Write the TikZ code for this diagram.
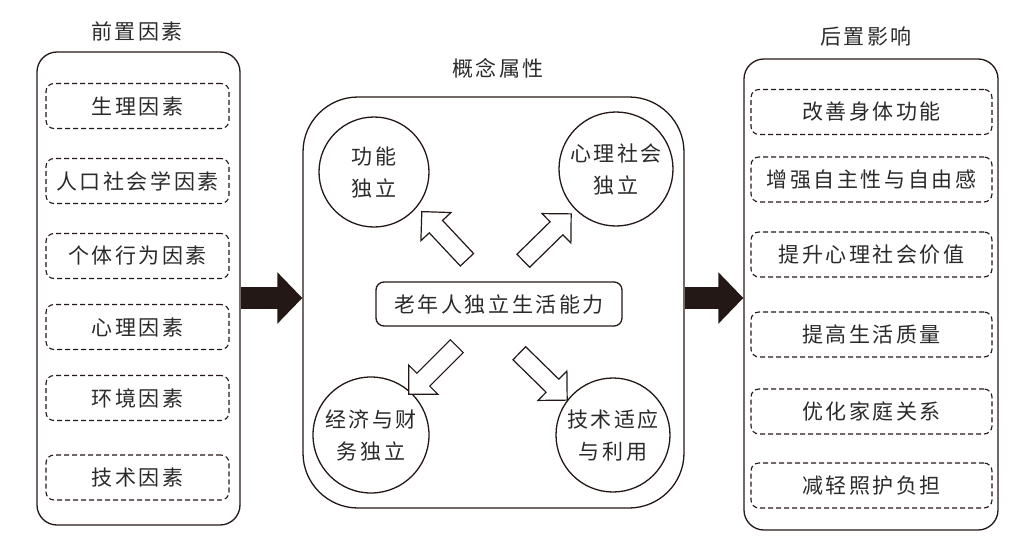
\documentclass[tikz,border=0pt]{standalone}
\usepackage{fontspec}
\setmainfont{Noto Sans CJK SC}[LetterSpace=12]
\usetikzlibrary{shapes.arrows,arrows.meta}
\definecolor{ink}{HTML}{231815}
\definecolor{txt}{HTML}{2A2A2A}
\begin{document}
\begin{tikzpicture}[x=1pt,y=-1pt,
  font=\fontsize{21}{32}\selectfont, text=txt,
  panel/.style={draw=ink, line width=1.3pt, rounded corners=20pt, inner sep=0pt},
  factor/.style={draw=ink, dash pattern=on 5pt off 3pt, line width=1.1pt, rounded corners=8pt, minimum height=45pt, inner sep=0pt},
  attr/.style={circle, draw=ink, line width=1.3pt, align=center, inner sep=0pt},
  corebox/.style={draw=ink, line width=1.3pt, rounded corners=8pt, minimum width=246pt, minimum height=44pt, inner sep=0pt},
  hollow/.style={single arrow, draw=ink, line width=1.2pt, inner sep=8.5pt, single arrow head extend=11.5pt, single arrow tip angle=90, sloped, allow upside down, fill=white},
  bigarrow/.style={draw=ink, line width=22pt, -{Triangle[length=25pt,width=50pt]}}
]
\useasboundingbox (0,0) rectangle (1020,541);

% ---- left panel
\node (ltitle) at (137,31) {前置因素};
\node[panel, minimum width=203pt, minimum height=473pt] (lp) at (138.5,288.5) {};
\node[factor, minimum width=183pt] (l1) at (137.5,106) {生理因素};
\node[factor, minimum width=183pt] (l2) at (137.5,181) {人口社会学因素};
\node[factor, minimum width=183pt] (l3) at (137.5,256) {个体行为因素};
\node[factor, minimum width=183pt] (l4) at (137.5,327) {心理因素};
\node[factor, minimum width=183pt] (l5) at (137.5,398) {环境因素};
\node[factor, minimum width=183pt] (l6) at (137.5,477.5) {技术因素};

% ---- middle panel
\node (mtitle) at (498,68) {概念属性};
\node[panel, rounded corners=55pt, minimum width=381pt, minimum height=411pt] (mp) at (493.5,302.5) {};
\node[corebox] (core) at (499,304) {老年人独立生活能力};
\node[attr, minimum size=110pt] (c1) at (374,172) {功能\\独立};
\node[attr, minimum size=114pt] (c2) at (616,169) {心理社会\\独立};
\node[attr, minimum size=116pt] (c3) at (371,435) {经济与财\\务独立};
\node[attr, minimum size=114pt] (c4) at (613,435) {技术适应\\与利用};

% hollow arrows
\coordinate (t1) at (470,263); \coordinate (h1) at (425,215);
\coordinate (t2) at (520,264); \coordinate (h2) at (568,217);
\coordinate (t3) at (460,343); \coordinate (h3) at (412,391);
\coordinate (t4) at (516,350); \coordinate (h4) at (564,397);
\path (t1) -- (h1) node[midway, hollow, minimum height=66pt] (a1) {};
\path (t2) -- (h2) node[midway, hollow, minimum height=67pt] (a2) {};
\path (t3) -- (h3) node[midway, hollow, minimum height=68pt] (a3) {};
\path (t4) -- (h4) node[midway, hollow, minimum height=67pt] (a4) {};

% ---- right panel
\node (rtitle) at (866,37) {后置影响};
\node[panel, minimum width=254pt, minimum height=471pt] (rp) at (871,294.5) {};
\node[factor, minimum width=241pt] (r1) at (871.5,112) {改善身体功能};
\node[factor, minimum width=241pt] (r2) at (871.5,179.5) {增强自主性与自由感};
\node[factor, minimum width=241pt] (r3) at (871.5,254.5) {提升心理社会价值};
\node[factor, minimum width=241pt] (r4) at (871.5,334.5) {提高生活质量};
\node[factor, minimum width=241pt] (r5) at (871.5,411.5) {优化家庭关系};
\node[factor, minimum width=241pt] (r6) at (871.5,485.5) {减轻照护负担};

% ---- black arrows
\coordinate (b1) at (lp.east |- 0,298);
\coordinate (b2) at (mp.east |- 0,298);
\draw[bigarrow] (b1) -- (b1 -| mp.west);
\draw[bigarrow] (b2) -- (b2 -| rp.west);
\end{tikzpicture}
\end{document}
